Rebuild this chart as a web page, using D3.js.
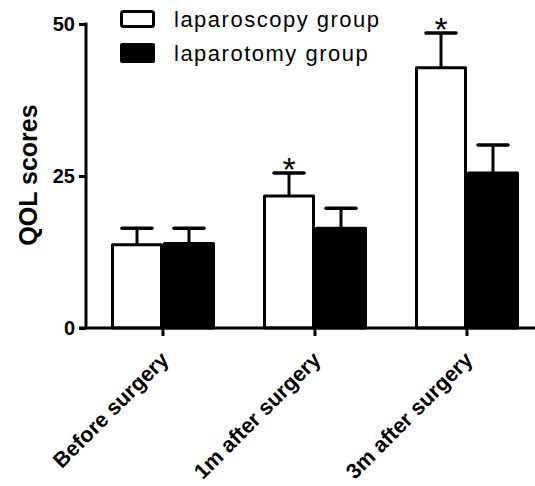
<!DOCTYPE html>
<html>
<head>
<meta charset="utf-8">
<script src="https://cdn.jsdelivr.net/npm/d3@7"></script>
<style>
  html, body { margin: 0; padding: 0; background: #fff; }
  svg { display: block; }
</style>
</head>
<body>
<script>
const categories = ["Before surgery", "1m after surgery", "3m after surgery"];
const seriesNames = ["laparoscopy group", "laparotomy group"];
const laparoscopyMean = [13.7, 21.7, 42.8];
const laparoscopyErr = [2.7, 3.8, 5.7];
const laparotomyMean = [13.9, 16.4, 25.5];
const laparotomyErr = [2.5, 3.3, 4.6];
const significant = [false, true, true];
const yTicks = [0, 25, 50];
const yLabel = "QOL scores";

const W = 535, H = 486;
const svg = d3.select("body").append("svg").attr("width", W).attr("height", H);

const axisX = 86, baseY = 328, topY = 24;
const y = d3.scaleLinear().domain([0, 50]).range([baseY, topY]);
const x0 = d3.scaleBand().domain(categories).range([87, 543]).paddingInner(0.316).paddingOuter(0.158);
const x1 = d3.scaleBand().domain(seriesNames).range([0, x0.bandwidth()]);

const data = categories.map((c, i) => ({
  cat: c,
  vals: [
    {s: seriesNames[0], v: laparoscopyMean[i], e: laparoscopyErr[i], fill: "#fff", sig: significant[i]},
    {s: seriesNames[1], v: laparotomyMean[i], e: laparotomyErr[i], fill: "#000", sig: false}
  ]
}));

const sw = 3;
const g = svg.append("g");
data.forEach(d => {
  d.vals.forEach(b => {
    const cx = x0(d.cat) + x1(b.s) + x1.bandwidth() / 2;
    g.append("line").attr("x1", cx).attr("x2", cx)
      .attr("y1", y(b.v)).attr("y2", y(b.v + b.e))
      .attr("stroke", "#000").attr("stroke-width", sw);
    g.append("line").attr("x1", cx - 15).attr("x2", cx + 15)
      .attr("y1", y(b.v + b.e)).attr("y2", y(b.v + b.e))
      .attr("stroke", "#000").attr("stroke-width", 3.5).attr("stroke-linecap", "round");
    if (b.sig) {
      g.append("text").attr("x", cx).attr("y", y(b.v + b.e) + 8)
        .attr("text-anchor", "middle")
        .attr("font-family", "Liberation Sans, Arial, sans-serif")
        .attr("font-size", 34).text("*");
    }
  });
});
data.forEach(d => {
  d.vals.forEach(b => {
    const bx = x0(d.cat) + x1(b.s);
    g.append("rect")
      .attr("x", bx + sw / 2).attr("y", y(b.v))
      .attr("width", x1.bandwidth() - sw).attr("height", y(0) - y(b.v))
      .attr("fill", b.fill).attr("stroke", "#000").attr("stroke-width", sw)
      .attr("stroke-linejoin", "round");
  });
});

const yAxis = d3.axisLeft(y).tickValues(yTicks).tickSize(7).tickPadding(4).tickSizeOuter(0);
const ya = svg.append("g").attr("transform", `translate(${axisX},0)`).call(yAxis);
ya.select(".domain").attr("stroke-width", sw).attr("d", `M0,${topY - 1.5}V${baseY}`);
ya.selectAll(".tick line").attr("stroke-width", sw);
ya.selectAll(".tick text").attr("font-family", "Liberation Sans, Arial, sans-serif")
  .attr("font-weight", "bold").attr("font-size", 20).attr("fill", "#000");

const xAxis = d3.axisBottom(x0).tickSize(8).tickSizeOuter(0);
const xa = svg.append("g").attr("transform", `translate(0,${baseY})`).call(xAxis);
xa.select(".domain").attr("stroke-width", sw).attr("d", `M${axisX - 7},0H${W}`);
xa.selectAll(".tick line").attr("stroke-width", sw);
xa.selectAll(".tick text")
  .attr("font-family", "Liberation Sans, Arial, sans-serif")
  .attr("font-weight", "bold").attr("font-size", 21.5).attr("fill", "#000")
  .attr("text-anchor", "end")
  .attr("dy", null).attr("y", null)
  .attr("transform", "translate(7,33) rotate(-45)");

svg.append("text")
  .attr("transform", `translate(37,175) rotate(-90)`)
  .attr("text-anchor", "middle")
  .attr("font-family", "Liberation Sans, Arial, sans-serif")
  .attr("font-weight", "bold").attr("font-size", 25)
  .text(yLabel);

const lg = svg.append("g");
lg.append("rect").attr("x", 121.5).attr("y", 11.5).attr("width", 32).attr("height", 15)
  .attr("rx", 2).attr("fill", "#fff").attr("stroke", "#000").attr("stroke-width", 3);
lg.append("rect").attr("x", 120).attr("y", 43).attr("width", 35).attr("height", 20)
  .attr("rx", 2).attr("fill", "#000");
[[seriesNames[0], 27], [seriesNames[1], 61]].forEach(([t, yy]) => {
  lg.append("text").attr("x", 174).attr("y", yy)
    .attr("font-family", "Liberation Sans, Arial, sans-serif")
    .attr("font-size", 22).attr("letter-spacing", 1.5).text(t);
});
</script>
</body>
</html>
